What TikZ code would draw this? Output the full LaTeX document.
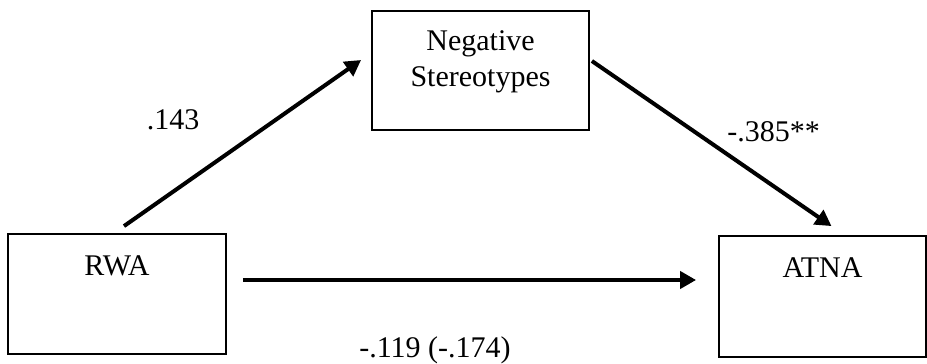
\documentclass[tikz,border=0pt]{standalone}
\usepackage{fontspec}
\setmainfont{Liberation Serif}
\usetikzlibrary{arrows.meta}

\begin{document}
\begin{tikzpicture}[x=0.5pt,y=-0.5pt,
  var node/.style={draw,line width=0.9pt,rectangle,inner sep=0pt,align=center,
    font=\fontsize{15pt}{18pt}\selectfont},
  path arrow/.style={line width=2pt,-{Triangle[length=8pt,width=8.5pt]}},
  coef/.style={font=\fontsize{15pt}{18pt}\selectfont,inner sep=0pt}]
  \useasboundingbox (0,0) rectangle (927,364);

  \node[var node,minimum width=109pt,text height=20.5pt,text depth=39.5pt] (rwa) at (117,294) {RWA};
  \node[var node,minimum width=108.5pt,text height=37.5pt,text depth=22pt] (neg) at (480.5,70.5) {Negative\\Stereotypes};
  \node[var node,minimum width=103.5pt,text height=20.5pt,text depth=40pt] (atna) at (822.5,296.5) {ATNA};

  \draw[path arrow] ([shift={(7,-7)}]rwa.north) -- ([shift={(-10,-10.5)}]neg.west);
  \draw[path arrow] ([shift={(2,-9.5)}]neg.east) -- ([shift={(9,-9)}]atna.north);
  \draw[path arrow] ([shift={(16,-14)}]rwa.east) -- ([shift={(-22,-16.5)}]atna.west);

  \node[coef] (a path) at (173,120) {.143};
  \node[coef,anchor=west] (b path) at (727,132) {-.385**};
  \node[coef] (c path) at (435,350) {-.119 (-.174)};
\end{tikzpicture}
\end{document}
